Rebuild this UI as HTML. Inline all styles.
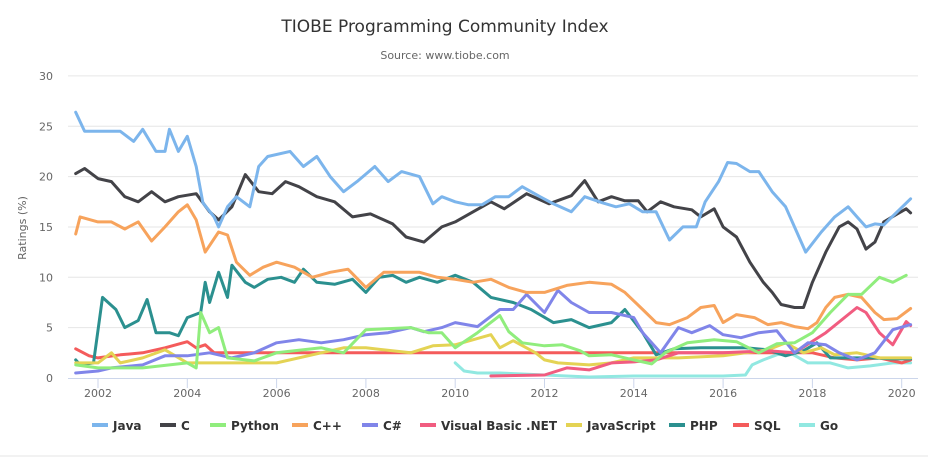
<!DOCTYPE html>
<html><head><meta charset="utf-8"><style>
body{margin:0;background:#fff;font-family:"DejaVu Sans","Liberation Sans",sans-serif}
svg{display:block}
</style></head><body>
<svg id="chart" width="938" height="469">
<text x="445" y="32" text-anchor="middle" font-size="17" fill="#333">TIOBE Programming Community Index</text>
<text x="445" y="59" text-anchor="middle" font-size="11" fill="#666">Source: www.tiobe.com</text>
<text transform="translate(26,228) rotate(-90)" text-anchor="middle" font-size="11" fill="#666">Ratings (%)</text>
<g id="grid"></g><g id="series"></g><g id="legend"></g>
<line x1="0" y1="456" x2="928" y2="456" stroke="#e6e6e6"/>
</svg>
<script>
const yTicks=[0,5,10,15,20,25,30];
const xTicks=[2002,2004,2006,2008,2010,2012,2014,2016,2018,2020];
const names=["Java","C","Python","C++","C#","Visual Basic .NET","JavaScript","PHP","SQL","Go"];
const colors=["#7cb5ec","#434348","#90ed7d","#f7a35c","#8085e9","#f15c80","#e4d354","#2b908f","#f45b5b","#91e8e1"];
const javaX=[2001.5,2001.7,2002,2002.5,2002.8,2003,2003.3,2003.5,2003.6,2003.8,2004,2004.2,2004.35,2004.6,2004.7,2004.9,2005.1,2005.4,2005.6,2005.8,2006.3,2006.6,2006.9,2007.2,2007.5,2007.8,2008.2,2008.5,2008.8,2009.2,2009.5,2009.7,2010,2010.3,2010.6,2010.9,2011.2,2011.5,2011.9,2012.2,2012.6,2012.9,2013.3,2013.6,2013.9,2014.2,2014.5,2014.8,2015.1,2015.4,2015.6,2015.9,2016.1,2016.3,2016.6,2016.8,2017.1,2017.4,2017.6,2017.85,2018.2,2018.5,2018.8,2019,2019.2,2019.4,2019.6,2019.9,2020.2];
const javaY=[26.4,24.5,24.5,24.5,23.5,24.7,22.5,22.5,24.7,22.5,24,21,17.4,16,15,17,18,17,21,22,22.5,21,22,20,18.5,19.5,21,19.5,20.5,20,17.3,18,17.5,17.2,17.2,18,18,19,18,17.3,16.5,18,17.4,17,17.3,16.5,16.5,13.7,15,15,17.5,19.5,21.4,21.3,20.5,20.5,18.5,17,15,12.5,14.5,16,17,16,15,15.3,15.2,16.5,17.8];
const cX=[2001.5,2001.7,2002,2002.3,2002.6,2002.9,2003.2,2003.5,2003.8,2004.2,2004.5,2004.7,2005,2005.3,2005.6,2005.9,2006.2,2006.5,2006.9,2007.3,2007.7,2008.1,2008.6,2008.9,2009.3,2009.7,2010,2010.4,2010.8,2011.1,2011.6,2012.1,2012.6,2012.9,2013.2,2013.5,2013.8,2014.1,2014.3,2014.6,2014.9,2015.3,2015.5,2015.8,2016,2016.3,2016.6,2016.9,2017.1,2017.3,2017.6,2017.8,2018,2018.3,2018.6,2018.8,2019,2019.2,2019.4,2019.6,2019.9,2020.1,2020.2];
const cY=[20.3,20.8,19.8,19.5,18,17.5,18.5,17.5,18,18.3,16.5,15.7,17,20.2,18.5,18.3,19.5,19,18,17.5,16,16.3,15.3,14,13.5,15,15.5,16.5,17.5,16.8,18.3,17.3,18.1,19.6,17.5,18,17.6,17.6,16.5,17.5,17,16.7,16,16.8,15,14,11.5,9.5,8.5,7.3,7,7,9.5,12.5,15,15.5,14.8,12.8,13.5,15.5,16.3,16.8,16.4];
const pyX=[2001.5,2002,2003,2004,2004.2,2004.3,2004.5,2004.7,2004.9,2005.5,2006,2007,2007.5,2008,2009,2009.4,2009.7,2010,2010.5,2011,2011.2,2011.5,2012,2012.4,2012.8,2013,2013.5,2014,2014.4,2014.7,2015.2,2015.8,2016.3,2016.8,2017.2,2017.6,2018,2018.4,2018.8,2019.1,2019.5,2019.8,2020.1];
const pyY=[1.3,1,1,1.5,1,6.5,4.5,5,2,1.7,2.5,3,2.5,4.8,5,4.5,4.5,3,4.5,6.2,4.6,3.5,3.2,3.3,2.7,2.2,2.3,1.8,1.4,2.5,3.5,3.8,3.6,2.5,3.4,3.5,4.5,6.5,8.3,8.3,10,9.5,10.2];
const cppX=[2001.5,2001.6,2002,2002.3,2002.6,2002.9,2003.2,2003.5,2003.8,2004,2004.2,2004.4,2004.7,2004.9,2005.1,2005.4,2005.7,2006,2006.4,2006.8,2007.2,2007.6,2008,2008.4,2008.8,2009.2,2009.6,2010,2010.4,2010.8,2011.2,2011.6,2012,2012.5,2013,2013.5,2013.8,2014.2,2014.5,2014.8,2015.2,2015.5,2015.8,2016,2016.3,2016.7,2017,2017.3,2017.6,2017.9,2018.1,2018.3,2018.5,2018.8,2019.1,2019.4,2019.6,2019.9,2020.2];
const cppY=[14.3,16,15.5,15.5,14.8,15.5,13.6,15,16.5,17.2,15.7,12.5,14.5,14.2,11.5,10.2,11,11.5,11,10,10.5,10.8,9,10.5,10.5,10.5,10,9.8,9.5,9.8,9,8.5,8.5,9.2,9.5,9.3,8.5,6.8,5.5,5.3,6,7,7.2,5.5,6.3,6,5.3,5.5,5.1,4.9,5.5,7,8,8.3,8,6.5,5.8,5.9,6.9];
const csX=[2001.5,2002,2002.3,2003,2003.5,2004,2004.5,2005,2005.5,2006,2006.5,2007,2007.5,2008,2008.5,2009,2009.3,2009.7,2010,2010.5,2011,2011.3,2011.6,2012,2012.3,2012.6,2013,2013.5,2014,2014.2,2014.6,2015,2015.3,2015.7,2016,2016.4,2016.8,2017.2,2017.6,2017.9,2018.3,2018.6,2019,2019.4,2019.8,2020.2];
const csY=[0.5,0.7,1,1.3,2.2,2.2,2.5,2,2.5,3.5,3.8,3.5,3.8,4.3,4.5,5,4.6,5,5.5,5.1,6.8,6.8,8.3,6.5,8.7,7.5,6.5,6.5,6,4.5,2.5,5,4.5,5.2,4.3,4,4.5,4.7,2.5,3.5,3.3,2.5,1.8,2.5,4.8,5.3];
const vbX=[2010.8,2012,2012.5,2013,2013.5,2014,2014.5,2015,2016,2017,2017.6,2018.3,2019,2019.2,2019.5,2019.8,2020.1,2020.2];
const vbY=[0.2,0.3,1,0.8,1.5,1.6,1.8,2.5,2.5,2.7,2.5,4.5,7,6.5,4.5,3.3,5.6,5.2];
const jsX=[2001.5,2002,2002.3,2002.5,2003,2003.5,2004,2005,2006,2007,2007.5,2008,2009,2009.5,2010,2010.8,2011,2011.3,2011.8,2012,2012.3,2013,2013.5,2014,2014.5,2015,2016,2017,2017.4,2017.8,2018.2,2018.5,2019,2019.5,2020.2];
const jsY=[1.5,1.5,2.5,1.5,2,2.8,1.5,1.5,1.5,2.5,3,3,2.5,3.2,3.3,4.3,3,3.7,2.5,1.8,1.5,1.3,1.5,2,2,2,2.2,2.8,3.5,2.5,3,2.3,2.5,2,2];
const phpX=[2001.5,2001.6,2001.9,2002.1,2002.4,2002.6,2002.9,2003.1,2003.3,2003.6,2003.8,2004,2004.3,2004.4,2004.5,2004.7,2004.9,2005,2005.3,2005.5,2005.8,2006.1,2006.4,2006.6,2006.9,2007.3,2007.7,2008,2008.3,2008.6,2008.9,2009.2,2009.6,2010,2010.4,2010.8,2011.3,2011.7,2012.2,2012.6,2013,2013.5,2013.8,2014.2,2014.5,2014.9,2015.5,2016,2016.5,2017,2017.4,2017.8,2018.1,2018.4,2018.8,2019.3,2019.8,2020.2];
const phpY=[1.8,1.3,1.5,8,6.8,5,5.7,7.8,4.5,4.5,4.2,6,6.5,9.5,7.5,10.5,8,11.2,9.5,9,9.8,10,9.5,10.8,9.5,9.3,9.8,8.5,10,10.2,9.5,10,9.5,10.2,9.5,8,7.5,6.8,5.5,5.8,5,5.5,6.8,4.5,2.3,2.9,3,3,3,2.8,2.2,2.7,3.5,2,2,2,1.9,1.9];
const sqlX=[2001.5,2001.8,2002,2002.5,2003,2003.5,2004,2004.2,2004.4,2004.6,2018,2018.5,2019,2019.5,2020,2020.2];
const sqlY=[2.9,2.2,2,2.3,2.5,3,3.6,3,3.3,2.5,2.5,2,1.8,2,1.5,1.8];
const goX=[2010,2010.2,2010.5,2011,2012,2013,2014,2015,2016,2016.5,2016.65,2016.9,2017.2,2017.5,2017.9,2018.4,2018.8,2019.3,2019.8,2020.2];
const goY=[1.5,0.7,0.5,0.5,0.3,0.1,0.2,0.2,0.2,0.3,1.3,1.8,2.3,2.5,1.5,1.5,1,1.2,1.5,1.5];
const seriesX=[javaX,cX,pyX,cppX,csX,vbX,jsX,phpX,sqlX,goX];
const seriesY=[javaY,cY,pyY,cppY,csY,vbY,jsY,phpY,sqlY,goY];
const NS="http://www.w3.org/2000/svg";
const xs=yr=>98+(yr-2002)*44.65;
const ys=v=>378-v*10.07;
const grid=document.getElementById('grid');
function mk(tag,attrs,parent){const e=document.createElementNS(NS,tag);for(const k in attrs)e.setAttribute(k,attrs[k]);parent.appendChild(e);return e;}
yTicks.forEach(t=>{
  if(t>0){const l=mk('line',{x1:68,x2:918,y1:ys(t),y2:ys(t),stroke:'#e6e6e6'},grid);
  
  }
  const tx=mk('text',{x:53,y:ys(t)+4,'text-anchor':'end','font-size':11,fill:'#666'},grid);tx.textContent=t;
  
  
});
const ax=mk('line',{x1:68,x2:918,y1:378.5,y2:378.5,stroke:'#ccd6eb'},grid);


xTicks.forEach(t=>{
  const tl=mk('line',{x1:xs(t),x2:xs(t),y1:378,y2:388,stroke:'#ccd6eb'},grid);
  
  
  const tx=mk('text',{x:xs(t),y:397,'text-anchor':'middle','font-size':11,fill:'#666'},grid);tx.textContent=t;
  
  
});
const sg=document.getElementById('series');
const order=[9,8,7,6,5,4,3,2,1,0];
order.forEach(i=>{
  const d=seriesX[i].map((x,j)=>(j?'L':'M')+xs(x).toFixed(1)+','+ys(seriesY[i][j]).toFixed(1)).join('');
  const p=mk('path',{d:d,fill:'none',stroke:colors[i],'stroke-width':3,'stroke-linejoin':'round','stroke-linecap':'round'},sg);
  
  
});
const lg=document.getElementById('legend');
const lgX=[92,160,210,292,362,420,566,669,733,799];
names.forEach((n,i)=>{
  const g=mk('g',{},lg);
  
  
  mk('rect',{x:lgX[i],y:423,width:16,height:4,fill:colors[i]},g);
  const t=mk('text',{x:lgX[i]+21,y:430,'font-size':12,'font-weight':'bold',fill:'#333'},g);t.textContent=n;
});
</script>
</body></html>
